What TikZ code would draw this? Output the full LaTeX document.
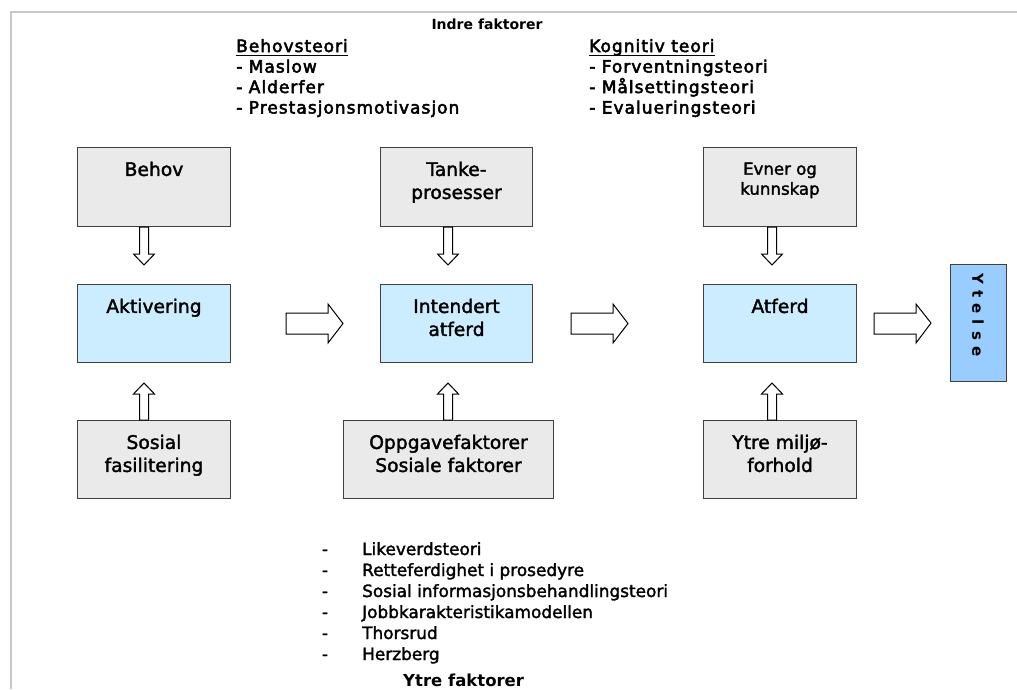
\documentclass[tikz,border=0pt]{standalone}
\usepackage{fontspec}
\setmainfont{DejaVu Sans}
\newfontfamily\ytfont[LetterSpace=40]{DejaVu Sans}
\newfontfamily\boxfont[FakeBold=1.8]{DejaVu Sans}
\newfontfamily\topfont[LetterSpace=6,FakeBold=3]{DejaVu Sans}
\usetikzlibrary{calc}
\definecolor{boxgray}{HTML}{EAEAEA}
\definecolor{boxblue}{HTML}{CCECFF}
\definecolor{ytblue}{HTML}{99CCFF}
\definecolor{framegray}{HTML}{C8C8C8}
\definecolor{boxline}{HTML}{404040}
\newcommand\blkdown[2]{%
  \draw[blockarrow] let \p1=(#1), \p2=(#2) in
   (\x1-4.5pt,\y1) -- (\x1-4.5pt,\y2+11pt) -- (\x1-10.5pt,\y2+11pt) -- (\x2,\y2)
   -- (\x1+10.5pt,\y2+11pt) -- (\x1+4.5pt,\y2+11pt) -- (\x1+4.5pt,\y1) -- cycle;}
\newcommand\blkup[2]{%
  \draw[blockarrow] let \p1=(#1), \p2=(#2) in
   (\x1-4.5pt,\y1) -- (\x1-4.5pt,\y2-11pt) -- (\x1-10.5pt,\y2-11pt) -- (\x2,\y2)
   -- (\x1+10.5pt,\y2-11pt) -- (\x1+4.5pt,\y2-11pt) -- (\x1+4.5pt,\y1) -- cycle;}
\newcommand\blkright[2]{%
  \draw[blockarrow] let \p1=(#1), \p2=(#2) in
   (\x1,\y1-10.5pt) -- (\x2-15pt,\y1-10.5pt) -- (\x2-15pt,\y1-19.5pt) -- (\x2,\y2)
   -- (\x2-15pt,\y1+19.5pt) -- (\x2-15pt,\y1+10.5pt) -- (\x1,\y1+10.5pt) -- cycle;}
\begin{document}
\begin{tikzpicture}[x=1pt,y=-1pt,
  box/.style={draw=boxline, line width=1pt, inner sep=0pt, anchor=north west},
  gbox/.style={box, fill=boxgray},
  bbox/.style={box, fill=boxblue},
  boxtext/.style={anchor=north, align=center, inner sep=0pt, font=\fontsize{18.7}{23}\selectfont\boxfont},
  smalltext/.style={anchor=north, align=center, inner sep=0pt, font=\fontsize{16.6}{20}\selectfont\boxfont},
  toplist/.style={anchor=base west, inner sep=0pt, font=\fontsize{17}{20}\selectfont\topfont},
  botlist/.style={anchor=base west, inner sep=0pt, font=\fontsize{16.9}{21}\selectfont\boxfont},
  blockarrow/.style={draw=black, line width=1pt, fill=white, line join=miter},
]
\useasboundingbox (0,0) rectangle (1017,689);
% frame
\draw[framegray, line width=2pt] (1017,11.5) -- (11,11.5) -- (11,689);

% boxes
\node[gbox, minimum width=153pt, minimum height=79pt] (b1) at (77,147) {};
\node[bbox, minimum width=153pt, minimum height=78pt] (b2) at (77,284) {};
\node[gbox, minimum width=153pt, minimum height=78pt] (b3) at (77,420) {};
\node[gbox, minimum width=152pt, minimum height=79pt] (c1) at (380,147) {};
\node[bbox, minimum width=152pt, minimum height=78pt] (c2) at (380,284) {};
\node[gbox, minimum width=210pt, minimum height=78pt] (c3) at (343,420) {};
\node[gbox, minimum width=153pt, minimum height=79pt] (d1) at (703,147) {};
\node[bbox, minimum width=153pt, minimum height=78pt] (d2) at (703,284) {};
\node[gbox, minimum width=153pt, minimum height=78pt] (d3) at (703,420) {};
\node[box, fill=ytblue, minimum width=56pt, minimum height=117pt] (yt) at (950,264) {};

% box texts
\node[boxtext] (tb1) at ($(b1.north)+(0,14.5)$) {Behov};
\node[boxtext] (tb2) at ($(b2.north)+(0,14.5)$) {Aktivering};
\node[boxtext] (tb3) at ($(b3.north)+(0,14.5)$) {Sosial\\fasilitering};
\node[boxtext] (tc1) at ($(c1.north)+(0,14.5)$) {Tanke-\\prosesser};
\node[boxtext] (tc2) at ($(c2.north)+(0,14.5)$) {Intendert\\atferd};
\node[boxtext] (tc3) at ($(c3.north)+(0,14.5)$) {Oppgavefaktorer\\Sosiale faktorer};
\node[smalltext] (td1) at ($(d1.north)+(0,15.4)$) {Evner og\\kunnskap};
\node[boxtext] (td2) at ($(d2.north)+(0,14.5)$) {Atferd};
\node[boxtext] (td3) at ($(d3.north)+(0,14.5)$) {Ytre miljø-\\forhold};
\node[rotate=-90, inner sep=0pt, font=\fontsize{15}{17}\selectfont] (ytt) at (978,315) {\ytfont\bfseries Ytelse};

% vertical block arrows
\coordinate (ab1) at ($(b1.south)+(-10,0)$);
\coordinate (ab1t) at ($(b2.north)+(-10,-19)$);
\blkdown{ab1}{ab1t}
\coordinate (ab3) at ($(b3.north)+(-10,0)$);
\coordinate (ab3t) at ($(b2.south)+(-10,20)$);
\blkup{ab3}{ab3t}
\coordinate (ac1) at ($(c1.south)+(-8.5,0)$);
\coordinate (ac1t) at ($(c2.north)+(-8.5,-19)$);
\blkdown{ac1}{ac1t}
\coordinate (ac3) at ($(c3.north)+(-0.5,0)$);
\coordinate (ac3t) at ($(c2.south)+(-8.5,20)$);
\blkup{ac3}{ac3t}
\coordinate (ad1) at ($(d1.south)+(-8,0)$);
\coordinate (ad1t) at ($(d2.north)+(-8,-19)$);
\blkdown{ad1}{ad1t}
\coordinate (ad3) at ($(d3.north)+(-8,0)$);
\coordinate (ad3t) at ($(d2.south)+(-8,20)$);
\blkup{ad3}{ad3t}

% horizontal block arrows
\coordinate (r1s) at ($(b2.east)+(55,0)$);
\coordinate (r1e) at ($(c2.west)+(-37,0)$);
\blkright{r1s}{r1e}
\coordinate (r2s) at ($(c2.east)+(38,0)$);
\coordinate (r2e) at ($(d2.west)+(-75,0)$);
\blkright{r2s}{r2e}
\coordinate (r3s) at ($(d2.east)+(17,0)$);
\coordinate (r3e) at ($(yt.west)+(-19,0)$);
\blkright{r3s}{r3e}

% top texts
\node[anchor=base, inner sep=0pt, font=\fontsize{14}{16}\selectfont\bfseries] (indre) at (487,29) {Indre faktorer};
\node[toplist] (beh) at (236,52) {Behovsteori};
\draw[line width=1.2pt] ($(beh.base west)+(0,3.5)$) -- ($(beh.base east)+(0,3.5)$);
\foreach \t [count=\i] in {- Maslow, - Alderfer, - Prestasjonsmotivasjon}
  \node[toplist] (bl\i) at (236,52+20.5*\i) {\t};
\node[toplist] (kog) at (589,52) {Kognitiv teori};
\draw[line width=1.2pt] ($(kog.base west)+(0,3.5)$) -- ($(kog.base east)+(0,3.5)$);
\foreach \t [count=\i] in {- Forventningsteori, - Målsettingsteori, - Evalueringsteori}
  \node[toplist] (kl\i) at (589,52+20.5*\i) {\t};

% bottom list
\foreach \t [count=\i] in {Likeverdsteori, Retteferdighet i prosedyre, Sosial informasjonsbehandlingsteori, Jobbkarakteristikamodellen, Thorsrud, Herzberg}{
  \node[botlist, anchor=base] (bd\i) at (325,534+21*\i) {-};
  \node[botlist] (bt\i) at (362,534+21*\i) {\t};
}
\node[anchor=base west, inner sep=0pt, font=\fontsize{16.5}{18}\selectfont\bfseries] (ytre) at (403,686) {Ytre faktorer};
\end{tikzpicture}
\end{document}
